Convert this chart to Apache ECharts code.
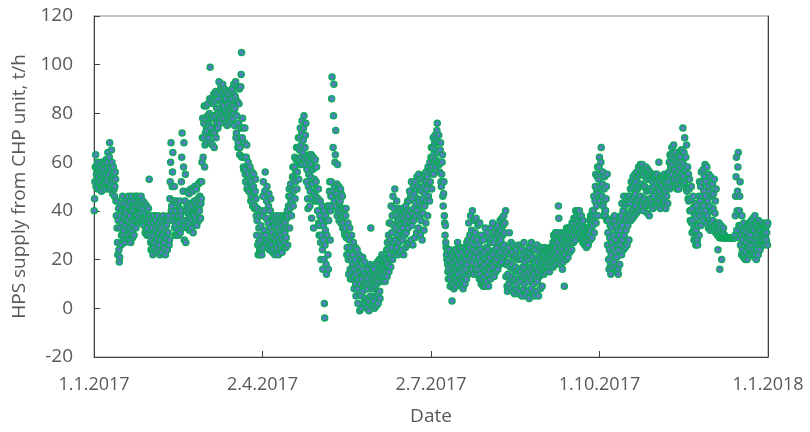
<!DOCTYPE html>
<html>
<head>
<meta charset="utf-8">
<script src="https://cdn.jsdelivr.net/npm/echarts@6/dist/echarts.min.js"></script>
<style>html,body{margin:0;padding:0;background:#fff;}#c{width:810px;height:432px;}</style>
</head>
<body>
<div id="c"></div>
<script>
// Tick labels of the date axis (day 0 = 1.1.2017, quarterly ticks)
const xTickLabels = ['1.1.2017', '2.4.2017', '2.7.2017', '1.10.2017', '1.1.2018'];
const yTicks = [-20, 0, 20, 40, 60, 80, 100, 120];

// HPS supply from CHP unit, t/h — several readings per day, one sub-array per day
const jan = [[40,45,52,58,63],[50,55,58,53,60],[49,54,57,51,56],[52,58,55,49,60],[48,53,56,59,51],[50,57,54,60,52],[49,55,61,53,58],[52,60,64,56,49],[55,62,68,58,50],[51,57,65,60,54],[47,52,58,55,49],[46,50,56,53,44],[38,44,33,27,22],[36,41,24,19,21],[33,38,43,26,30],[35,40,46,30,28],[32,37,43,27,40],[34,39,45,29,36],[30,36,42,46,28],[33,38,44,31,27],[35,41,46,32,29],[34,40,44,30,37],[36,42,46,33,39],[38,43,46,36,40],[37,42,45,35,40],[39,44,46,36,42],[36,41,44,35,38],[34,39,43,31,37],[32,38,42,30,35],[33,37,41,31,53],[30,35,38,27,24]];
const feb = [[28,33,37,24,22],[30,35,38,25,27],[27,32,36,23,29],[29,34,38,24,31],[26,31,35,22,28],[28,33,37,23,30],[30,35,38,25,27],[27,32,36,22,29],[29,34,37,24,31],[31,36,38,26,28],[45,52,60,68,40],[42,50,56,64,36],[38,44,50,33,30],[34,40,44,30,37],[32,38,43,30,36],[35,41,44,31,38],[40,52,62,72,33],[36,48,58,68,28],[34,44,55,27,40],[36,42,48,33,39],[35,41,47,32,38],[37,43,49,33,40],[36,42,48,31,39],[38,44,50,35,41],[37,43,49,34,40],[39,45,51,36,42],[40,46,52,37,43],[45,52,60,70,78]];
const mar = [[62,70,76,83,58],[67,72,78,83,74],[68,73,79,84,76],[70,75,80,86,99],[68,74,79,85,72],[67,72,78,84,88],[66,72,79,85,89],[70,76,82,88,74],[74,80,86,93,78],[76,82,88,91,80],[79,84,89,92,82],[78,83,87,90,81],[76,81,86,89,79],[75,80,84,88,78],[76,81,85,89,79],[77,82,86,90,80],[78,83,88,92,80],[75,82,87,93,70],[72,79,85,91,66],[68,76,84,90,63],[66,74,91,96,105],[62,70,78,74,58],[57,62,68,74,55],[52,57,62,67,49],[50,55,60,53,48],[48,53,58,51,44],[46,52,56,49,42],[44,50,55,47,41],[42,48,53,45,38],[30,36,41,26,22],[27,33,38,24,22]];
const apr = [[28,34,40,24,22],[30,38,46,52,25],[32,40,48,56,27],[30,37,44,50,25],[28,35,42,47,24],[27,33,40,45,25],[26,31,36,23,38],[24,29,34,37,22],[26,30,35,38,23],[25,29,33,36,22],[27,31,35,38,24],[26,30,34,37,23],[28,32,36,38,25],[27,31,35,38,25],[29,33,37,40,26],[38,42,46,49,33],[41,46,51,44,38],[44,49,54,58,42],[48,53,58,62,45],[52,56,61,66,49],[56,61,66,70,53],[60,65,70,74,59],[62,67,72,77,59],[64,69,74,79,61],[61,66,71,76,59],[52,57,62,45,41],[50,55,60,63,42],[48,54,59,63,37],[45,51,57,62,33],[47,53,58,44,61]];
const may = [[46,52,58,49,44],[40,45,49,35,30],[34,38,44,27,20],[30,36,42,24,16],[28,34,40,20,2,-4],[26,32,38,18,14],[30,36,42,22,16],[36,42,48,52,28],[40,46,52,86,95],[42,48,66,79,92],[44,50,60,63,73],[42,47,51,38,59],[40,45,50,36,43],[39,44,49,35,47],[37,41,46,33,38],[35,39,41,31,30],[33,38,41,29,22],[25,30,35,20,14],[22,28,33,16,12],[20,25,30,15,12],[18,22,27,13,8],[16,20,25,10,5],[14,18,24,8,2],[12,17,22,6,-1],[10,15,20,5,0],[12,16,21,7,2],[10,14,19,4,1],[9,13,17,3,0],[8,12,16,3,-1],[10,14,18,5,33],[9,13,17,4,1]];
const jun = [[8,12,16,3,0],[9,13,18,5,1],[10,14,19,6,2],[11,15,20,7,4],[13,16,20,11,22],[14,17,21,12,19],[13,16,20,11,18],[15,19,24,13,27],[18,24,30,15,35],[22,28,35,17,42],[25,31,38,20,46],[27,34,41,22,49],[28,33,38,23,44],[25,30,36,22,41],[27,32,37,23,40],[29,34,38,24,41],[28,33,37,22,40],[30,35,39,25,42],[31,36,40,26,44],[33,38,44,27,48],[35,40,46,28,52],[34,39,45,26,50],[36,41,47,29,52],[38,43,49,31,54],[40,45,50,33,55],[38,44,49,30,53],[36,42,48,28,54],[39,45,50,32,55],[42,47,52,35,56],[44,49,54,38,58]];
const jul = [[46,51,56,44,60],[52,57,62,66,49],[58,62,66,70,55],[60,64,68,71,58],[61,65,69,73,76],[60,64,68,71,59],[56,60,65,68,52],[50,55,60,63,46],[42,47,52,38,35],[30,34,27,25,22],[20,24,18,15,12],[16,20,24,12,9],[14,18,22,10,3],[15,19,23,11,8],[16,20,24,12,9],[15,19,23,11,27],[14,18,22,10,25],[16,20,24,12,9],[15,19,23,11,8],[17,21,25,13,10],[16,20,24,12,27],[18,23,28,14,35],[20,25,30,15,38],[22,27,32,16,40],[19,24,29,14,36],[21,26,31,16,37],[18,23,28,14,34],[16,21,26,12,35],[14,19,24,10,30],[12,17,22,9,28],[13,18,23,9,33]];
const aug = [[15,20,25,11,31],[14,19,24,9,29],[16,21,27,12,33],[18,23,28,14,35],[17,22,27,13,31],[19,24,29,15,33],[20,25,30,16,34],[22,27,31,18,36],[23,28,32,19,37],[25,30,34,21,38],[26,31,35,22,40],[13,18,23,9,7],[14,19,25,10,31],[12,17,22,8,27],[13,18,23,7,26],[11,16,21,6,25],[12,17,22,8,24],[10,15,20,6,26],[12,16,21,7,25],[11,15,20,5,24],[13,17,22,8,27],[10,14,19,5,23],[12,16,21,7,24],[11,15,20,4,25],[13,17,22,8,27],[12,16,21,6,25],[10,14,19,5,24],[12,16,20,7,26],[11,15,19,5,23],[13,17,21,8,25],[14,18,22,9,24]];
const sep = [[16,19,22,14,25],[17,20,23,15,24],[18,21,24,16,23],[17,20,23,15,25],[19,22,25,17,24],[20,23,27,17,30],[21,24,28,18,31],[22,25,28,19,31],[23,27,42,37,20],[21,25,29,18,31],[20,24,28,16,30],[19,23,27,9,31],[22,26,30,20,33],[24,27,31,21,33],[26,29,32,23,33],[27,30,33,24,35],[28,31,35,27,37],[30,33,37,28,40],[32,35,38,30,40],[33,36,39,31,40],[31,34,37,29,38],[29,32,35,27,36],[28,31,33,26,30],[27,29,31,25,33],[28,30,32,26,33],[30,33,36,28,38],[32,35,38,29,40],[34,37,40,46,31],[38,44,50,55,35],[42,48,54,58,38]];
const oct = [[47,53,58,62,44],[50,55,60,66,46],[46,51,56,42,38],[44,49,54,40,38],[40,45,50,36,55],[26,31,36,20,16],[24,29,34,18,14],[22,27,33,17,37],[25,30,36,19,38],[23,28,34,17,15],[21,26,32,16,14],[24,30,35,18,37],[26,32,38,22,43],[28,34,40,24,46],[30,36,42,25,44],[32,37,43,26,46],[34,39,44,28,46],[38,43,49,36,52],[40,45,50,37,54],[41,46,51,38,55],[42,47,52,39,56],[44,49,54,40,58],[45,50,55,41,59],[46,51,56,42,59],[44,50,55,40,57],[45,50,54,42,58],[43,48,53,39,57],[44,49,54,38,56],[45,49,53,42,55],[44,48,52,41,54],[46,50,54,43,55]];
const nov = [[44,48,52,42,55],[45,49,53,43,60],[44,48,52,41,54],[46,50,54,43,53],[45,49,53,42,55],[44,48,52,41,54],[46,50,54,43,55],[52,56,60,49,63],[54,58,62,50,66],[55,59,63,52,67],[53,57,61,50,64],[51,55,59,49,62],[52,56,60,49,63],[54,58,62,51,65],[55,60,65,52,74],[54,59,64,51,70],[52,57,62,49,67],[48,53,58,45,55],[44,49,53,40,36],[40,45,50,35,31],[36,41,46,32,28],[33,38,43,29,26],[32,37,42,28,26],[34,40,46,30,52],[38,44,50,34,56],[40,46,52,36,57],[42,48,54,38,59],[40,46,52,35,58],[38,44,50,33,55],[36,42,48,32,54]];
const dec = [[35,40,46,33,51],[36,41,47,33,53],[34,39,44,31,49],[32,34,35,30,24],[31,33,35,29,16],[30,32,34,29,20],[29,30,31,29,33],[29,29,30,29,29],[29,29,29,29,29],[29,29,29,29,29],[29,29,29,29,29],[29,29,29,29,29],[29,29,29,29,29],[30,38,46,54,62],[32,40,48,58,64],[29,34,40,46,52],[26,30,34,22,38],[24,28,32,21,35],[22,26,30,20,33],[23,27,31,20,34],[25,29,33,22,35],[26,30,34,23,36],[24,28,33,22,37],[23,27,32,21,38],[22,26,30,20,35],[24,28,32,22,36],[26,29,32,24,34],[27,30,33,26,35],[28,30,33,26,34],[29,31,34,27,35],[28,31,34,26,35]];

const months = [jan, feb, mar, apr, may, jun, jul, aug, sep, oct, nov, dec];
const points = [];
let day = 0;
months.forEach(m => m.forEach(vals => {
  vals.forEach((v, i) => points.push([day + (i + 0.5) / vals.length, v]));
  day++;
}));

const FONT = 'Open Sans';
const GRAY = '#595959';
const chart = echarts.init(document.getElementById('c'), null, {renderer: 'canvas'});
chart.setOption({
  animation: false,
  backgroundColor: '#ffffff',
  grid: {left: 94, right: 42, top: 16, bottom: 75, show: true, borderColor: '#8c8c8c', borderWidth: 1,
    containLabel: false, outerBoundsMode: 'none'},
  xAxis: {
    type: 'value', min: 0, max: 365, interval: 91.25,
    name: 'Date', nameLocation: 'middle', nameGap: 50,
    nameTextStyle: {fontFamily: FONT, fontSize: 19, color: GRAY},
    axisLine: {show: true, onZero: false, lineStyle: {color: '#404040', width: 1}},
    axisTick: {show: true, inside: true, length: 6, lineStyle: {color: '#404040'}},
    axisLabel: {margin: 19, fontFamily: FONT, fontSize: 18, color: GRAY,
      formatter: v => xTickLabels[Math.round(v / 91.25)] || ''},
    splitLine: {show: false}
  },
  yAxis: [{
    type: 'value', min: yTicks[0], max: yTicks[yTicks.length - 1], interval: 20,
    name: 'HPS supply from CHP unit, t/h', nameLocation: 'middle', nameGap: 61, nameRotate: 90,
    nameTextStyle: {fontFamily: FONT, fontSize: 19, color: GRAY},
    axisLine: {show: true, lineStyle: {color: '#404040', width: 1}},
    axisTick: {show: true, inside: true, length: 6, lineStyle: {color: '#404040'}},
    axisLabel: {margin: 21, fontFamily: FONT, fontSize: 19, color: GRAY},
    splitLine: {show: false}
  }, {
    type: 'value', min: -20, max: 120, interval: 20, position: 'right',
    axisLine: {show: true, lineStyle: {color: '#404040', width: 1}},
    axisTick: {show: false}, axisLabel: {show: false}, splitLine: {show: false}
  }],
  series: [{
    type: 'scatter', yAxisIndex: 0, data: points, symbol: 'circle', symbolSize: 6,
    itemStyle: {color: '#5580c0', borderColor: '#10a85c', borderWidth: 1.5, opacity: 1},
    large: false
  }]
});
</script>
</body>
</html>
